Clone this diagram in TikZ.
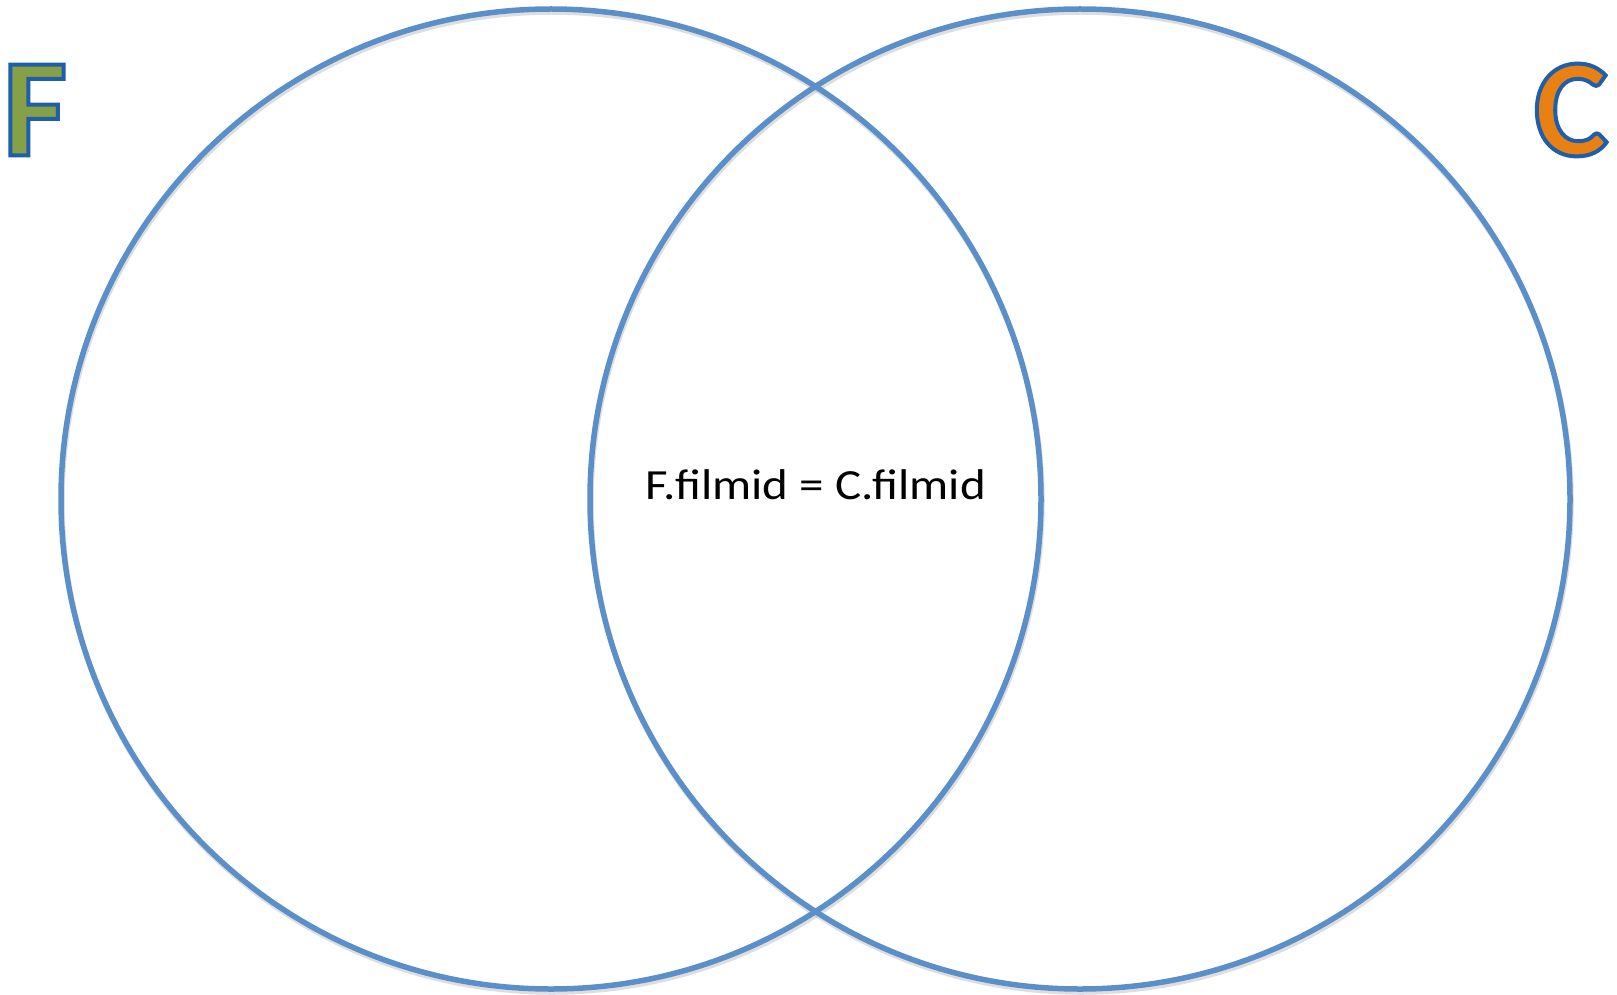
\documentclass[tikz,border=0pt]{standalone}
\usepackage{fontspec}
\setmainfont{Carlito}
\definecolor{ringblue}{RGB}{91,143,201}
\definecolor{fgreen}{RGB}{134,160,72}
\definecolor{corange}{RGB}{232,128,20}
\newcommand{\outlined}[2]{{\color{#1}\special{pdf:literal direct 2 Tr 4 w 0.12 0.37 0.66 RG}#2\special{pdf:literal direct 0 Tr}}}
\begin{document}
\begin{tikzpicture}[x=1pt,y=-1pt,
  ring/.style={draw=ringblue,line width=5.5pt},
  ringshadow/.style={draw=black!25,line width=5.5pt,opacity=0.5},
  biglabel/.style={font=\fontsize{140}{140}\bfseries\selectfont,inner sep=0pt},
  joinlabel/.style={font=\fontsize{43}{43}\selectfont,inner sep=0pt,xscale=1.14}]
\useasboundingbox[fill=white] (0,0) rectangle (1617,995);
\draw[ringshadow] (552,502) circle[radius=490];
\draw[ringshadow] (1081,502) circle[radius=490];
\node[ring,circle,minimum size=980pt,inner sep=0pt] (F) at (551,499) {};
\node[ring,circle,minimum size=980pt,inner sep=0pt] (C) at (1080,499) {};
\node[joinlabel] (cond) at (816,485) {F.filmid = C.filmid};
\node[biglabel] (Flab) at (35,110) {\outlined{fgreen}{F}};
\node[biglabel] (Clab) at (1571,110) {\outlined{corange}{C}};
\end{tikzpicture}
\end{document}
